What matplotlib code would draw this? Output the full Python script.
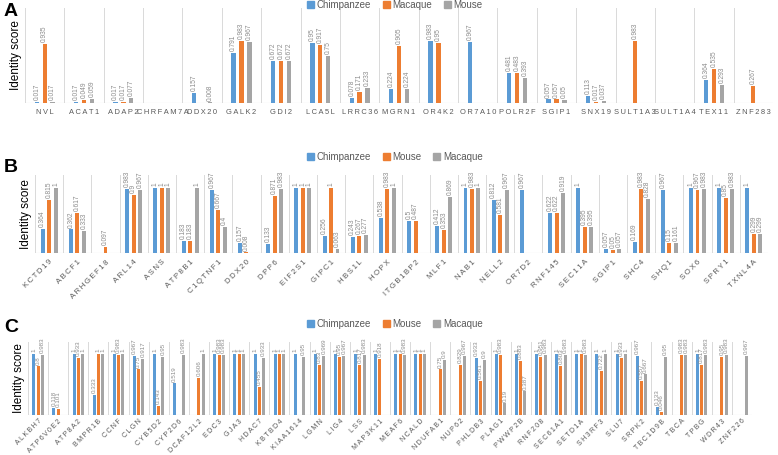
import numpy as np
import matplotlib
matplotlib.use("Agg")
import matplotlib.pyplot as plt
from matplotlib.patches import Patch

plt.rcParams['font.family'] = ['Liberation Sans', 'DejaVu Sans']

W, H = 778, 455
BLUE = "#5B9BD5"
ORANGE = "#ED7D31"
GRAY = "#A5A5A5"
nan = np.nan

# --- Panel A data (order: Chimpanzee, Macaque, Mouse) ---
genes_a = ["NVL", "ACAT1", "ADAP2", "CHRFAM7A", "DDX20", "GALK2", "GDI2", "LCA5L",
           "LRRC36", "MGRN1", "OR4K2", "OR7A10", "POLR2F", "SGIP1", "SNX19",
           "SULT1A3", "SULT1A4", "TEX11", "ZNF283"]
chimp_a = [0.017, 0.017, 0.017, nan, 0.157, 0.791, 0.672, 0.95, 0.078, 0.224, 0.983,
           0.967, 0.481, 0.057, 0.113, nan, nan, 0.364, nan]
macaque_a = [0.935, 0.049, 0.017, nan, nan, 0.983, 0.672, 0.917, 0.171, 0.905, 0.95,
             nan, 0.483, 0.057, 0.017, 0.983, nan, 0.535, 0.267]
mouse_a = [0.017, 0.059, 0.077, nan, 0.008, 0.967, 0.672, 0.75, 0.233, 0.224, nan,
           nan, 0.393, 0.05, 0.037, nan, nan, 0.293, nan]

# --- Panel B data (order: Chimpanzee, Mouse, Macaque) ---
genes_b = ["KCTD19", "ABCF1", "ARHGEF18", "ARL14", "ASNS", "ATP8B1", "C1QTNF1", "DDX20",
           "DPP6", "EIF2S1", "GIPC1", "HBS1L", "HOPX", "ITGB1BP2", "MLF1", "NAB1",
           "NELL2", "OR7D2", "RNF145", "SEC11A", "SGIP1", "SHC4", "SHQ1", "SOX6",
           "SPRY1", "TXNL4A"]
chimp_b = [0.364, 0.362, nan, 0.983, 1, 0.183, 0.967, 0.157, 0.133, 1, 0.256, 0.243,
           0.538, 0.5, 0.412, 1, 0.812, 0.967, 0.622, 1, 0.057, 0.169, 0.967, 1, 1, 1]
mouse_b = [0.815, 0.617, 0.097, 0.9, 1, 0.183, 0.667, 0.008, 0.871, 1, 1, 0.267,
           0.983, 0.487, 0.353, 0.983, 0.581, nan, 0.622, 0.395, 0.05, 0.983, 0.15,
           0.967, 0.85, 0.299]
macaque_b = [1, 0.333, nan, 0.967, 1, 1, 0.4, nan, 0.983, 1, 0.063, 0.277, 1, nan,
             0.869, 1, 0.967, nan, 0.919, 0.395, 0.057, 0.828, 0.161, 0.983, 0.983,
             0.299]

# --- Panel C data (order: Chimpanzee, Mouse, Macaque) ---
genes_c = ["ALKBH7", "ATP6V0E2", "ATP8A2", "BMPR1B", "CCNF", "CLGN", "CYB5D2", "CYP2D6",
           "DCAF12L2", "EDC3", "GJA3", "HDAC7", "KBTBD4", "KIAA1614", "LGMN", "LIG4",
           "LSS", "MAP3K11", "MEAF6", "NCALD", "NDUFAB1", "NUP62", "PHLDB3", "PLAG1",
           "PWWP2B", "RNF208", "SEC61A1", "SETD1A", "SH3RF3", "SLU7", "SRPK2",
           "TBC1D9B", "TBCA", "TPBG", "WDR43", "ZNF226"]
chimp_c = [1, 0.118, 1, 0.333, 1, 0.967, 1, 0.519, nan, 1, 1, 1, 1, 1, 1, 1, 1, 1, 1,
           1, nan, nan, 0.933, 1, 1, 1, 1, 1, 1, 1, 0.967, 0.133, nan, 1, nan, nan]
mouse_c = [0.8, 0.101, 0.933, 1, 0.983, 0.75, 0.143, nan, 0.606, 0.983, 1, 0.455, 1,
           nan, 0.83, 0.95, 0.817, 0.918, 1, 1, 0.75, 0.829, 0.561, 0.983, 0.883,
           0.951, 0.803, 1, 0.722, 0.933, 0.557, 0.046, 0.983, 0.817, 0.95, nan]
macaque_c = [0.983, nan, 1, 1, 1, 0.917, 0.95, 0.983, 1, 0.983, 1, 0.933, 1, 0.95,
             0.969, 0.967, 0.983, nan, 0.983, 1, 0.9, 0.967, 0.9, 0.19, 0.387, 0.983,
             0.983, 0.983, 1, 1, 0.667, 0.95, 0.983, 0.983, 0.983, 0.967]


def px_rect(left, top, right, bottom):
    return [left / W, 1 - bottom / H, (right - left) / W, (bottom - top) / H]


def spaced(s):
    return "\u2009".join(s)


def draw_panel(rect, genes, series, ymax, rot, step, bw, lab_fs, tick_fs, pad=4):
    ax = fig.add_axes(rect)
    x = np.arange(len(genes))
    colors = [BLUE, ORANGE, GRAY]
    for i, vals in enumerate(series):
        vals = np.array(vals, dtype=float)
        pos = x + (i - 1) * step
        ax.bar(pos, np.nan_to_num(vals), width=bw, color=colors[i], zorder=3)
        for p, v in zip(pos, vals):
            if np.isnan(v):
                continue
            ax.text(p, v + 0.03, f"{v:g}", rotation=90, ha='center', va='bottom',
                    fontsize=lab_fs, color="#8C8C8C", zorder=4)
    for b in np.arange(len(genes) + 1) - 0.5:
        ax.axvline(b, color="#D9D9D9", lw=0.7, zorder=1)
    ax.axhline(0, color="#D9D9D9", lw=0.8, zorder=2)
    ax.set_xlim(-0.5, len(genes) - 0.5)
    ax.set_ylim(0, ymax)
    ax.set_yticks([])
    for s in ax.spines.values():
        s.set_visible(False)
    ax.set_xticks(x)
    if rot:
        ax.set_xticklabels([spaced(g) for g in genes], rotation=45, ha='right',
                           rotation_mode='anchor', fontsize=tick_fs, color="#595959")
    else:
        ax.set_xticklabels([spaced(g) for g in genes], fontsize=tick_fs, color="#595959")
    ax.tick_params(axis='x', length=0, pad=pad)
    ax.set_ylabel("Identity score", fontsize=8.5, labelpad=2)
    return ax


fig = plt.figure(figsize=(W / 100, H / 100), dpi=100)

ax_a = draw_panel(px_rect(25, 8, 773, 103), genes_a, [chimp_a, macaque_a, mouse_a],
                  1.51, False, 0.2, 0.11, 4.8, 5.4)
ax_b = draw_panel(px_rect(35, 175, 768, 253), genes_b, [chimp_b, mouse_b, macaque_b],
                  1.2, True, 0.23, 0.14, 4.8, 5.6)
ax_c = draw_panel(px_rect(28, 342, 752, 415), genes_c, [chimp_c, mouse_c, macaque_c],
                  1.2, True, 0.21, 0.15, 4.5, 5.0, pad=2)

for ax, names, ly in [(ax_a, ["Chimpanzee", "Macaque", "Mouse"], 5),
                      (ax_b, ["Chimpanzee", "Mouse", "Macaque"], 157),
                      (ax_c, ["Chimpanzee", "Mouse", "Macaque"], 324)]:
    handles = [Patch(color=c, label=n) for c, n in zip([BLUE, ORANGE, GRAY], names)]
    fig.legend(handles=handles, loc='center', bbox_to_anchor=(395 / W, 1 - ly / H),
               ncol=3, frameon=False, fontsize=7, handlelength=0.7, handleheight=0.7,
               handletextpad=0.3, columnspacing=1.2, labelcolor="#595959")

for letter, ly in [("A", 12), ("B", 167), ("C", 328)]:
    fig.text(4 / W, 1 - ly / H, letter, fontsize=14, fontweight='bold', va='center')

fig.savefig("out.png", dpi=100)
